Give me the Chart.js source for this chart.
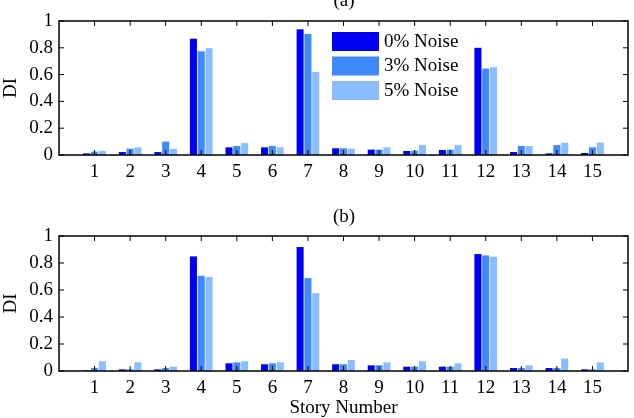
<!DOCTYPE html>
<html>
<head>
<meta charset="utf-8">
<script src="https://cdn.jsdelivr.net/npm/chart.js@4.4.0/dist/chart.umd.min.js"></script>
<style>
  html, body { margin: 0; padding: 0; background: #fff; }
  #wrap { position: relative; width: 634px; height: 418px; }
  .box { position: absolute; left: 0; width: 634px; }
</style>
</head>
<body>
<div id="wrap">
  <div class="box" style="top:0;height:200px"><canvas id="chartA" width="634" height="200"></canvas></div>
  <div class="box" style="top:200px;height:218px"><canvas id="chartB" width="634" height="218"></canvas></div>
</div>
<script>
// story numbers and values
const stories = ['1','2','3','4','5','6','7','8','9','10','11','12','13','14','15'];
const seriesNames = ['0% Noise', '3% Noise', '5% Noise'];
const seriesColors = ['#0000f5', '#4089fa', '#8abdff'];

// (a)
const a0 = [0.012, 0.022, 0.022, 0.868, 0.057, 0.057, 0.938, 0.050, 0.040, 0.030, 0.037, 0.800, 0.022, 0.012, 0.015];
const a3 = [0.025, 0.047, 0.100, 0.774, 0.067, 0.067, 0.903, 0.050, 0.040, 0.032, 0.040, 0.645, 0.067, 0.074, 0.057];
const a5 = [0.030, 0.057, 0.047, 0.797, 0.089, 0.057, 0.620, 0.047, 0.057, 0.074, 0.074, 0.655, 0.067, 0.092, 0.092];

// (b)
const b0 = [0.003, 0.012, 0.012, 0.849, 0.057, 0.050, 0.918, 0.050, 0.042, 0.032, 0.032, 0.866, 0.022, 0.022, 0.012];
const b3 = [0.022, 0.012, 0.022, 0.705, 0.064, 0.057, 0.688, 0.050, 0.042, 0.032, 0.032, 0.856, 0.022, 0.022, 0.012];
const b5 = [0.072, 0.064, 0.032, 0.696, 0.072, 0.064, 0.577, 0.082, 0.064, 0.072, 0.057, 0.847, 0.042, 0.092, 0.064];

const yTickValues = [0, 0.2, 0.4, 0.6, 0.8, 1];
const yTickLabels = ['0', '0.2', '0.4', '0.6', '0.8', '1'];

const FONT = 'Liberation Serif, Times New Roman, serif';

// blank slot at each end so the axis runs from 0 to 16 like the original
const xLabels = [''].concat(stories, ['']);
const pad = arr => [null].concat(arr, [null]);

// MATLAB-like box with inward ticks on all four sides
const boxTicks = {
    id: 'boxTicks',
    afterDraw(chart) {
        const ctx = chart.ctx, a = chart.chartArea;
        const xs = chart.scales.x, ys = chart.scales.y;
        ctx.save();
        ctx.strokeStyle = '#000';
        ctx.lineWidth = 1.5;
        ctx.strokeRect(a.left, a.top, a.right - a.left, a.bottom - a.top);
        ctx.lineWidth = 1;
        for (let i = 1; i <= stories.length; i++) {
            const px = xs.getPixelForValue(i);
            ctx.beginPath();
            ctx.moveTo(px, a.top); ctx.lineTo(px, a.top + 5);
            ctx.moveTo(px, a.bottom); ctx.lineTo(px, a.bottom - 5);
            ctx.stroke();
        }
        yTickValues.forEach(v => {
            const py = ys.getPixelForValue(v);
            ctx.beginPath();
            ctx.moveTo(a.left, py); ctx.lineTo(a.left + 5, py);
            ctx.moveTo(a.right, py); ctx.lineTo(a.right - 5, py);
            ctx.stroke();
        });
        ctx.restore();
    }
};

// panel caption "(a)" / "(b)" and optional legend inside the plot
const extras = {
    id: 'extras',
    afterDraw(chart, args, opts) {
        const ctx = chart.ctx, a = chart.chartArea;
        ctx.save();
        ctx.fillStyle = '#000';
        ctx.font = '19px ' + FONT;
        ctx.textAlign = 'center';
        ctx.textBaseline = 'alphabetic';
        ctx.fillText(opts.caption, opts.captionX, opts.captionY);
        if (opts.legend) {
            ctx.textAlign = 'left';
            ctx.textBaseline = 'middle';
            chart.data.datasets.forEach((ds, i) => {
                const y = 32 + i * 24.5;
                ctx.fillStyle = ds.backgroundColor;
                ctx.fillRect(332, y, 47, 19);
                ctx.fillStyle = '#000';
                ctx.fillText(ds.label, 384, y + 10);
            });
        }
        if (opts.xTitle) {
            ctx.textAlign = 'center';
            ctx.textBaseline = 'middle';
            ctx.fillText(opts.xTitle, (a.left + a.right) / 2, opts.xTitleY);
        }
        ctx.restore();
    }
};

function makeChart(id, s0, s3, s5, topPad, xHeight, extraOpts) {
    const ctx = document.getElementById(id).getContext('2d');
    const vals = [s0, s3, s5];
    return new Chart(ctx, {
        type: 'bar',
        data: {
            labels: xLabels,
            datasets: vals.map((v, i) => ({
                label: seriesNames[i],
                data: pad(v),
                backgroundColor: seriesColors[i],
                borderWidth: 0,
                categoryPercentage: 0.66,
                barPercentage: 0.9
            }))
        },
        options: {
            responsive: false,
            animation: false,
            layout: { padding: { top: topPad, right: 3, left: 0, bottom: 0 } },
            plugins: {
                legend: { display: false },
                tooltip: { enabled: false },
                extras: extraOpts
            },
            scales: {
                x: {
                    offset: false,
                    grid: { display: false, drawTicks: false },
                    border: { display: false },
                    ticks: {
                        color: '#000', font: { family: FONT, size: 19 },
                        padding: 6, autoSkip: false, maxRotation: 0
                    },
                    afterFit: s => { s.height = xHeight; }
                },
                y: {
                    min: 0, max: 1,
                    grid: { display: false, drawTicks: false },
                    border: { display: false },
                    afterBuildTicks: s => { s.ticks = yTickValues.map(v => ({ value: v })); },
                    ticks: {
                        color: '#000', font: { family: FONT, size: 19 }, padding: 6,
                        callback: (v, i) => yTickLabels[i]
                    },
                    title: {
                        display: true, text: 'DI', color: '#000',
                        font: { family: FONT, size: 19 }, padding: { top: 0, bottom: 0 }
                    },
                    afterFit: s => { s.width = 59; }
                }
            }
        },
        plugins: [boxTicks, extras]
    });
}

makeChart('chartA', a0, a3, a5, 21, 45,
    { caption: '(a)', captionX: 344, captionY: 6, legend: true });
makeChart('chartB', b0, b3, b5, 36, 47,
    { caption: '(b)', captionX: 344, captionY: 22, legend: false, xTitle: 'Story Number', xTitleY: 208 });
</script>
</body>
</html>
